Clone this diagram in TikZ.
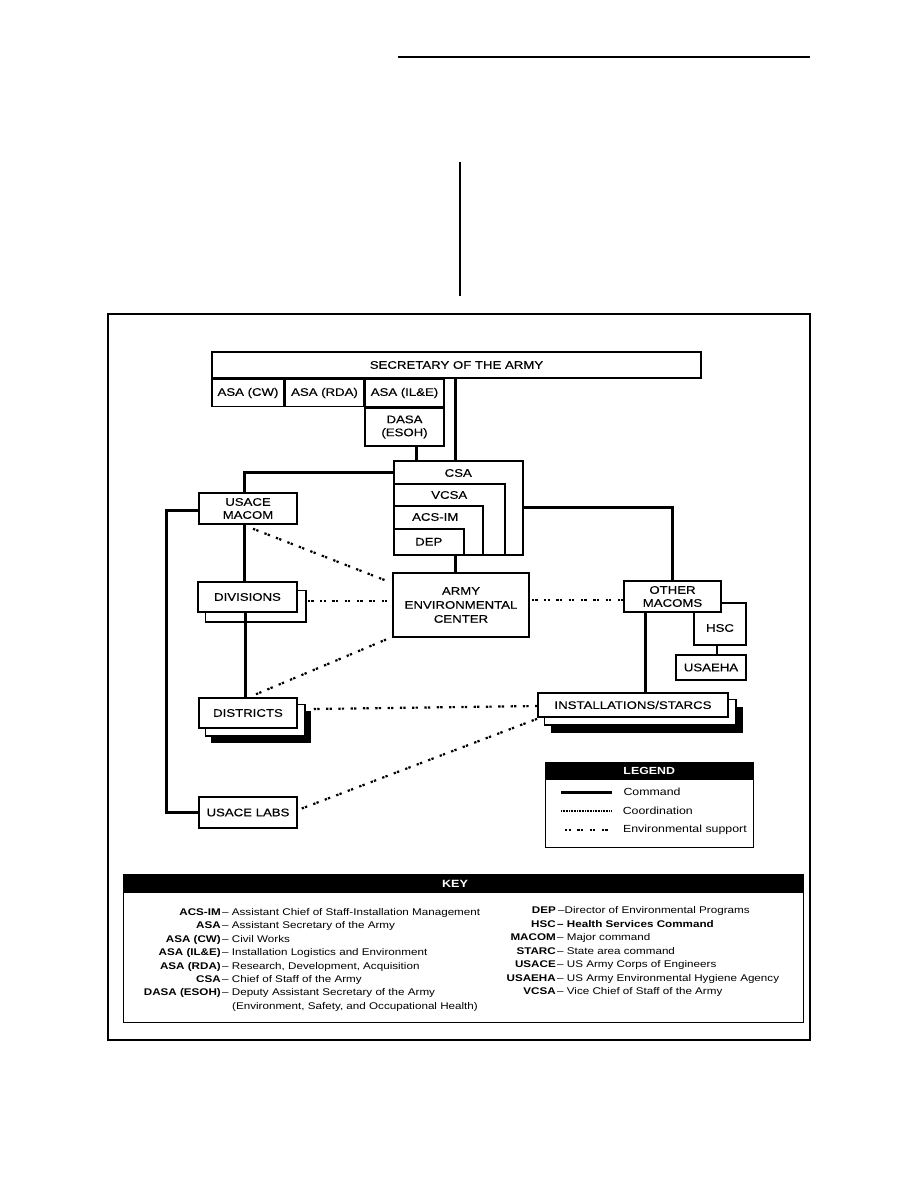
\documentclass[tikz,border=0pt]{standalone}
\usepackage{fontspec}
\setmainfont{Liberation Sans}[FakeStretch=1.2]
\newfontfamily\heavyfam{Liberation Sans}[FakeStretch=1.2,FakeBold=0.3]
\usetikzlibrary{positioning,calc,backgrounds}
\newcommand{\boxfont}{\heavyfam\fontsize{11}{13}\selectfont}
\newcommand{\legfont}{\fontsize{10.3}{12}\selectfont}
\newcommand{\keyfont}{\fontsize{9.7}{11}\selectfont}
\tikzset{
  box/.style={draw,line width=1.5pt,fill=white,inner sep=0pt,align=center,font=\boxfont},
  lbl/.style={inner sep=0pt,font=\boxfont},
  shadowbox/.style={draw,line width=1.5pt,fill=white},
  cmd/.style={line width=3pt},
  env/.style={line width=2.2pt,dash pattern=on 2.3pt off 1.2pt on 2.3pt off 6.5pt},
  coord/.style={line width=1.5pt,dash pattern=on 0.9pt off 0.7pt},
  head/.style={fill=black,text=white,inner sep=0pt,anchor=north west},
  keyterm/.style={inner sep=0pt,font=\keyfont\bfseries,anchor=base east},
  keydesc/.style={inner sep=0pt,font=\keyfont,anchor=base west},
}
% one row of the key: name, y, term, text
\newcommand{\keyleft}[4]{\node[keyterm] (#1t) at (221,#2) {#3};
  \node[keydesc] (#1d) at (222,#2) {\textendash\ #4};}
\newcommand{\keyright}[4]{\node[keyterm] (#1t) at (556,#2) {#3};
  \node[keydesc] (#1d) at (557,#2) {\textendash\ #4};}

\begin{document}
\begin{tikzpicture}[x=1pt,y=-1pt]
  \useasboundingbox (0,0) rectangle (918,1188);
  \begin{scope}[on background layer]
    \fill[white] (0,0) rectangle (918,1188);
  \end{scope}
  % page rules and frame
  \draw[line width=2pt] (398,57) -- (810,57);
  \draw[line width=2pt] (460,162) -- (460,296);
  \draw[line width=1.8pt] (108,314) rectangle (810,1040);

  % secretary and assistants
  \node[box,minimum width=489,minimum height=26] (sec) at (456.5,365) {SECRETARY OF THE ARMY};
  \node[box,minimum width=72,minimum height=27,anchor=north west] (asacw) at (sec.south west) {ASA (CW)};
  \node[box,minimum width=78,minimum height=27,anchor=west] (asarda) at (asacw.east) {ASA (RDA)};
  \node[box,minimum width=79,minimum height=27,anchor=west] (asaile) at (asarda.east) {ASA (IL\&E)};
  \node[box,minimum width=79,minimum height=38,anchor=north] (dasa) at (asaile.south) {DASA\\(ESOH)};

  % staff stack
  \node[box,minimum width=129,minimum height=94,anchor=north west] (csa) at (393,460) {};
  \node[box,minimum width=111,minimum height=71,anchor=south west] (vcsa) at (csa.south west) {};
  \node[box,minimum width=89,minimum height=49,anchor=south west] (acsim) at (csa.south west) {};
  \node[box,minimum width=70,minimum height=26,anchor=south west] (dep) at (csa.south west) {DEP};
  \node[lbl] (csat) at ($(csa.north)+(0,13)$) {CSA};
  \node[lbl] (vcsat) at ($(vcsa.north)+(0,12)$) {VCSA};
  \node[lbl] (acsimt) at ($(acsim.north)+(-3,12)$) {ACS-IM};
  \node[box,minimum width=136,minimum height=64,font=\heavyfam\fontsize{11}{14}\selectfont] (aec) at (461,605) {ARMY\\ENVIRONMENTAL\\CENTER};

  % corps of engineers
  \node[box,minimum width=98,minimum height=31] (macom) at (248,508.5) {USACE\\MACOM};
  \node[box,minimum width=99,minimum height=30] (div) at (247.5,597) {DIVISIONS};
  \node[box,minimum width=98,minimum height=30] (dist) at (248,713) {DISTRICTS};
  \node[box,minimum width=98,minimum height=31] (labs) at (248,812.5) {USACE LABS};

  % other commands
  \node[box,minimum width=52,minimum height=42] (hsc) at (720,624) {};
  \node[box,minimum width=97,minimum height=31] (other) at (672.5,596.5) {OTHER\\MACOMS};
  \node[lbl] (hsct) at ($(hsc.center)+(0,4)$) {HSC};
  \node[box,minimum width=70,minimum height=25] (usaeha) at (711,667.5) {USAEHA};
  \node[box,minimum width=190,minimum height=24] (inst) at (633,705) {INSTALLATIONS/STARCS};

  % stacked copies
  \begin{scope}[on background layer]
    \draw[shadowbox] ($(div.south west)+(8,9)$) rectangle ($(div.north east)+(8,9)$);
    \fill ($(dist.south west)+(13,14)$) rectangle ($(dist.north east)+(13,14)$);
    \draw[shadowbox] ($(dist.south west)+(7,7)$) rectangle ($(dist.north east)+(7,7)$);
    \fill ($(inst.south west)+(14,15)$) rectangle ($(inst.north east)+(14,15)$);
    \draw[shadowbox] ($(inst.south west)+(7,7)$) rectangle ($(inst.north east)+(7,7)$);
  \end{scope}

  % command lines
  \draw[cmd] ([xshift=-2.5]csa.north) -- ([xshift=-2.5]csa.north |- sec.south);
  \draw[cmd] ([xshift=11.5]dasa.south) -- ([xshift=11.5]dasa.south |- csa.north);
  \draw[cmd] ([yshift=-12]csa.north west) -| ([xshift=-4]macom.north);
  \draw[cmd] (csa.east) -| (other.north);
  \draw[cmd] ([xshift=-6]aec.north) -- ([xshift=-6]aec.north |- csa.south);
  \draw[cmd] ([xshift=-4]macom.south) -- ([xshift=-4]macom.south |- div.north);
  \draw[cmd] ([xshift=-2]div.south) -- ([xshift=-2]div.south |- dist.north);
  \draw[cmd] ([yshift=-2]macom.west) -- ++(-32,0) |- (labs.west);
  \draw[cmd] ([xshift=-27.5]other.south) -- ([xshift=-27.5]other.south |- inst.north);
  \draw[line width=2.2pt] ([xshift=-3]hsc.south) -- ([xshift=-3]hsc.south |- usaeha.north);

  % environmental support
  \draw[env] ($(macom.south)+(5,4)$) -- ($(aec.north west)+(-2,10)$);
  \draw[env] ($(div.east)+(10,4)$) -- ($(aec.west)+(0,-4)$);
  \draw[env] ($(dist.north)+(8,-3)$) -- ($(aec.south west)+(-2,0)$);
  \draw[env] ($(dist.east)+(16,-4)$) -- ($(inst.west)+(0,1)$);
  \draw[env] ($(labs.east)+(4,-4)$) -- ($(inst.south west)+(0,1)$);
  \draw[env] ($(aec.east)+(2,-5)$) -- ($(other.west)+(0,3.5)$);

  % legend
  \node[draw,line width=1.2pt,minimum width=208,minimum height=85,inner sep=0pt,anchor=north west] (legend) at (545,762) {};
  \node[head,minimum width=208,minimum height=18,font=\legfont\bfseries] (leghead) at (legend.north west) {LEGEND};
  \draw[cmd] (561,792) -- (612,792) node[right=10pt,inner sep=0pt,font=\legfont] (legcmd) {Command};
  \draw[coord] (561,811) -- (612,811) node[right=10pt,inner sep=0pt,font=\legfont] (legcoord) {Coordination};
  \draw[env] (565,830) -- (612,830) node[right=10pt,inner sep=0pt,font=\legfont] (legenv) {Environmental support};

  % key
  \node[draw,line width=1.3pt,minimum width=680,minimum height=148,inner sep=0pt,anchor=north west] (key) at (123,874) {};
  \node[head,minimum width=680,minimum height=19] (keyhead) at (key.north west) {};
  \node[inner sep=0pt,text=white,font=\fontsize{10.5}{12}\selectfont\bfseries] (keyt) at (455,884) {KEY};
  \keyleft{acsim}{915.5}{ACS-IM}{Assistant Chief of Staff-Installation Management}
  \keyleft{asa}{928.9}{ASA}{Assistant Secretary of the Army}
  \keyleft{asacw}{942.3}{ASA (CW)}{Civil Works}
  \keyleft{asaile}{955.7}{ASA (IL\&E)}{Installation Logistics and Environment}
  \keyleft{asarda}{969.1}{ASA (RDA)}{Research, Development, Acquisition}
  \keyleft{csa}{982.5}{CSA}{Chief of Staff of the Army}
  \keyleft{dasa}{995.9}{DASA (ESOH)}{Deputy Assistant Secretary of the Army}
  \node[keydesc] (dasa2) at (232,1009.3) {(Environment, Safety, and Occupational Health)};
  \node[keyterm] (dept) at (556,913.5) {DEP};
  \node[keydesc] (depd) at (558,913.5) {\textendash Director of Environmental Programs};
  \node[keyterm] (hsct) at (556,927) {HSC};
  \node[keydesc,font=\keyfont\bfseries] (hscd) at (557,927) {\textendash\ Health Services Command};
  \keyright{macom}{940.5}{MACOM}{Major command}
  \keyright{starc}{954}{STARC}{State area command}
  \keyright{usace}{967.5}{USACE}{US Army Corps of Engineers}
  \keyright{usaeha}{981}{USAEHA}{US Army Environmental Hygiene Agency}
  \keyright{vcsa}{994.5}{VCSA}{Vice Chief of Staff of the Army}
\end{tikzpicture}
\end{document}
